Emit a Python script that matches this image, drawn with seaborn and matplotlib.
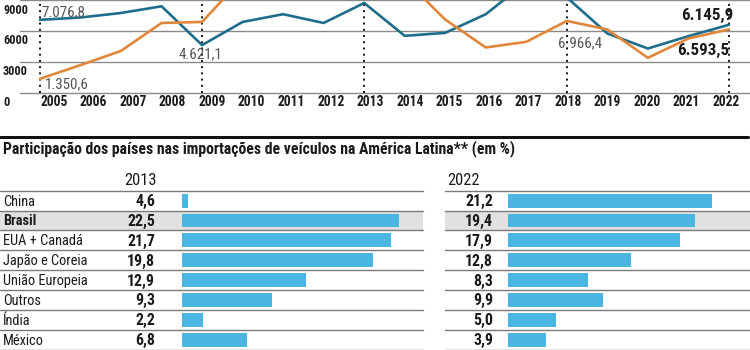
import matplotlib
matplotlib.use("Agg")
import matplotlib.pyplot as plt
import matplotlib.transforms as mtransforms
from matplotlib import font_manager
from matplotlib.lines import Line2D
import seaborn as sns
import pandas as pd

# ---------------- data ----------------
years = list(range(2005, 2023))
teal_vals = [7076.8, 7300, 7740, 8390, 4621.1, 6870, 7620, 6770, 8710, 5520,
             5810, 7620, 10730, 9250, 5750, 4290, 5490, 6593.5]
orange_vals = [1350.6, 2680, 4060, 6770, 6870, 11100, 13500, 12800, 13000, 11000,
               7100, 4390, 4940, 6966.4, 6140, 3390, 5260, 6145.9]
y_ticks = [0, 3000, 6000, 9000]
y_tick_labels = ["0", "3000", "6000", "9000"]
dotted_years = [2005, 2009, 2013, 2018, 2022]

countries = ["China", "Brasil", "EUA + Canadá", "Japão e Coreia", "União Europeia",
             "Outros", "Índia", "México"]
bar_2013 = [0.6, 22.5, 21.7, 19.8, 12.9, 9.3, 2.2, 6.8]
lbl_2013 = ["4,6", "22,5", "21,7", "19,8", "12,9", "9,3", "2,2", "6,8"]
bar_2022 = [21.2, 19.4, 17.9, 12.8, 8.3, 9.9, 5.0, 3.9]
lbl_2022 = ["21,2", "19,4", "17,9", "12,8", "8,3", "9,9", "5,0", "3,9"]
highlight = "Brasil"

title = "Participação dos países nas importações de veículos na América Latina** (em %)"

# ---------------- style ----------------
sns.set_theme(style="white")
avail = {f.name for f in font_manager.fontManager.ttflist}
STRETCH = "normal"
if "Roboto Condensed" in avail:
    FONT, SC = "Roboto Condensed", 1.08
elif "Liberation Sans Narrow" in avail:
    FONT, SC = "Liberation Sans Narrow", 1.0
else:
    fp = font_manager.FontProperties(family="DejaVu Sans", stretch="condensed")
    path = font_manager.findfont(fp, fallback_to_default=True)
    if "Condensed" in path:
        FONT, SC, STRETCH = "DejaVu Sans", 0.92, "condensed"
    else:
        FONT, SC = "Liberation Sans", 0.85
plt.rcParams["font.family"] = [FONT, "DejaVu Sans"]
plt.rcParams["font.stretch"] = STRETCH

TEAL = "#1f6d8c"
ORANGE = "#e0873b"
BLUE = "#4bb7e1"
GRID = "#8a8a8a"
TXT = "#1a1a1a"

W, H = 750, 350
fig = plt.figure(figsize=(W / 100, H / 100), dpi=100)


def px_rect(x0, y0, x1, y1):
    return [x0 / W, 1 - y1 / H, (x1 - x0) / W, (y1 - y0) / H]


# ---------------- top line chart ----------------
ax = fig.add_axes(px_rect(20, 0, 750, 92.7))
df = pd.DataFrame({"ano": years * 2,
                   "valor": teal_vals + orange_vals,
                   "serie": ["a"] * len(years) + ["b"] * len(years)})
sns.lineplot(data=df, x="ano", y="valor", hue="serie",
             palette={"a": TEAL, "b": ORANGE}, linewidth=1.9, ax=ax, legend=False)
ax.set_xlim(2004.507, 2022.52)
ax.set_ylim(0, 9000)
for s in ax.spines.values():
    s.set_visible(False)
ax.set_xticks([])
ax.set_yticks([])
ax.set_xlabel("")
ax.set_ylabel("")
for yv in y_ticks:
    ax.axhline(yv, color=GRID, lw=1.0, zorder=0, clip_on=False)
for yr in dotted_years:
    ax.axvline(yr, color="#111111", lw=1.4, ls=(0, (1, 2.2)), zorder=1)

# y tick labels (below their gridlines)
ax_h = 92.7
for yv, lab in zip(y_ticks, y_tick_labels):
    ypx = ax_h - yv / 9000 * ax_h + 10
    fig.text(3 / W, 1 - ypx / H, lab, ha="left", va="center",
             fontsize=8.2 * SC, fontweight="bold", color=TXT)

# year labels
for i, yr in enumerate(years):
    cx = 54 + i * 39.53
    fig.text(cx / W, 1 - 102 / H, str(yr), ha="center", va="center",
             fontsize=9.0 * SC, fontweight="bold", color=TXT)

ANN = "#555555"
def ann(x, y, txt, dx, dy, ha, bold=False, color=ANN, size=10.0):
    ax.annotate(txt, (x, y), xytext=(dx, dy), textcoords="offset pixels",
                ha=ha, va="center", fontsize=size * SC, color=color,
                fontweight="bold" if bold else "normal", annotation_clip=False)

ann(2005, teal_vals[0], "7.076,8", 1, 8, "left")
ann(2005, orange_vals[0], "1.350,6", 5, -6, "left")
ann(2009, teal_vals[4], "4.621,1", -2, -9, "center")
ann(2018, orange_vals[13], "6.966,4", -9, -22, "left")
ann(2022, orange_vals[-1], "6.145,9", 4, 14, "right", bold=True, color=TXT, size=11.3)
ann(2022, teal_vals[-1], "6.593,5", 0, -26, "right", bold=True, color=TXT, size=11.3)

# ---------------- separator & title ----------------
fig.add_artist(Line2D([0, 748 / W], [1 - 137 / H, 1 - 137 / H], color="#111111",
                      lw=2.2, transform=fig.transFigure))
fig.text(3 / W, 1 - 153.5 / H, title, ha="left", va="baseline",
         fontsize=10.5 * SC, fontweight="bold", color=TXT)
fig.text(157 / W, 1 - 185 / H, "2013", ha="right", va="baseline",
         fontsize=11 * SC, color=TXT)
fig.text(447 / W, 1 - 185 / H, "2022", ha="left", va="baseline",
         fontsize=11 * SC, color=TXT)

# ---------------- bar tables ----------------
SCALE = 9.63  # px per percentage point
Y0, Y1 = 190.7, 349.6


def table(x0, x1, bar_x0, vals, labels, val_right_px, show_names):
    axb = fig.add_axes(px_rect(x0, Y0, x1, Y1))
    d = pd.DataFrame({"pais": countries, "v": vals})
    sns.barplot(data=d, x="v", y="pais", orient="h", color=BLUE, saturation=1,
                width=0.7, linewidth=0, ax=axb)
    axb.set_xlim(-(bar_x0 - x0) / SCALE, (x1 - bar_x0) / SCALE)
    axb.set_ylim(len(countries) - 0.5, -0.5)
    for s in axb.spines.values():
        s.set_visible(False)
    axb.set_xticks([])
    axb.set_yticks([])
    axb.set_xlabel("")
    axb.set_ylabel("")
    hi = countries.index(highlight)
    axb.axhspan(hi - 0.5, hi + 0.5, color="#e1e1e1", zorder=0, lw=0)
    for k in range(len(countries) + 1):
        axb.axhline(k - 0.5, color="#7a7a7a", lw=1.0, zorder=3, clip_on=False)
    tr = mtransforms.blended_transform_factory(axb.transAxes, axb.transData)
    wpx = x1 - x0
    for i, (name, lab) in enumerate(zip(countries, labels)):
        b = name == highlight
        if show_names:
            axb.text(3 / wpx, i + 0.05, name, transform=tr, ha="left", va="center",
                     fontsize=9.6 * SC, color=TXT, fontweight="bold" if b else "normal")
        axb.text((val_right_px - x0) / wpx, i + 0.05, lab, transform=tr, ha="right",
                 va="center", fontsize=10.6 * SC, color=TXT, fontweight="bold")
    return axb


table(0, 423, 182, bar_2013, lbl_2013, 155, True)
table(445, 750, 508, bar_2022, lbl_2022, 493, False)

fig.savefig("out.png", dpi=100)
